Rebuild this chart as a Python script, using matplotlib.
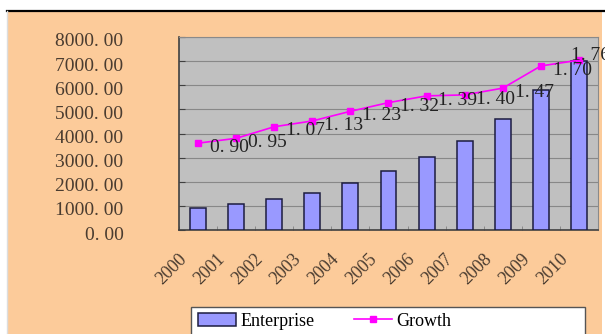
import numpy as np
import matplotlib
matplotlib.use("Agg")
import matplotlib.pyplot as plt
from matplotlib.patches import Rectangle
from matplotlib.lines import Line2D
from matplotlib.transforms import ScaledTranslation

# ---- data ----
years = ["2000", "2001", "2002", "2003", "2004", "2005",
         "2006", "2007", "2008", "2009", "2010"]
enterprise = [900, 1070, 1270, 1550, 1960, 2430, 3010, 3700, 4590, 5810, 7020]
growth = [0.90, 0.95, 1.07, 1.13, 1.23, 1.32, 1.39, 1.40, 1.47, 1.70, 1.76]
y_ticks = [0, 1000, 2000, 3000, 4000, 5000, 6000, 7000, 8000]

PEACH = "#fccb9a"
PLOT_BG = "#c0c0c0"
BAR = "#9999ff"
MAGENTA = "#ff00ff"
TXT = "#4a3c30"

plt.rcParams["font.family"] = ["Liberation Serif", "DejaVu Serif"]

fig = plt.figure(figsize=(6.05, 3.34), dpi=100, facecolor="white")
W, H = 605.0, 334.0

# peach chart area + black top rule
fig.patches.append(Rectangle((7 / W, 0), 595 / W, (H - 10) / H, transform=fig.transFigure,
                             facecolor=PEACH, edgecolor="none", zorder=-10))
fig.lines.append(Line2D([7 / W, 1], [(H - 10.5) / H] * 2, transform=fig.transFigure,
                        color="black", lw=1.6, zorder=-9))
fig.lines.append(Line2D([6.5 / W] * 2, [0, (H - 10.5) / H], transform=fig.transFigure,
                        color="#dddddd", lw=1, zorder=-9))

ax = fig.add_axes([179 / W, (H - 230) / H, 419 / W, 193 / H])
ax.set_facecolor(PLOT_BG)
x = np.arange(len(years))

bars = ax.bar(x, enterprise, width=0.42, color=BAR, edgecolor="#1c1c40",
              linewidth=1.1, zorder=3, label="Enterprise")
ax.set_xlim(-0.5, len(years) - 0.5)
ax.set_ylim(0, 8000)
ax.set_yticks(y_ticks)
ax.set_yticklabels([f"{v:.2f}".replace(".", ". ") for v in y_ticks])
ax.yaxis.grid(True, color="#888888", lw=0.8, zorder=1)
ax.set_axisbelow(True)
ax.tick_params(axis="y", direction="in", length=4, pad=40, labelsize=14,
               labelcolor=TXT, color="#404040")
down = ScaledTranslation(0, -3 / 100, fig.dpi_scale_trans)
for lab in ax.get_yticklabels():
    lab.set_transform(lab.get_transform() + down)

ax.set_xticks(x)
ax.set_xticklabels(years, rotation=45, ha="right", va="top")
ax.set_xticks(np.arange(-0.5, len(years)), minor=True)
ax.tick_params(axis="x", which="major", length=0, pad=15, labelsize=13, labelcolor=TXT)
ax.tick_params(axis="x", which="minor", direction="in", length=3, color="#808080")
shift = ScaledTranslation(-8 / 100, 0, fig.dpi_scale_trans)
for lab in ax.get_xticklabels():
    lab.set_transform(lab.get_transform() + shift)

for side in ["left", "bottom"]:
    ax.spines[side].set_color("#404040")
    ax.spines[side].set_linewidth(1.2)
for side in ["top", "right"]:
    ax.spines[side].set_color("#8a8a8a")

# growth on a hidden secondary scale
ax2 = ax.twinx()
ax2.set_ylim(0, 2)
ax2.set_yticks([])
for s in ax2.spines.values():
    s.set_visible(False)
line, = ax2.plot(x, growth, color=MAGENTA, lw=1.2, marker="s", markersize=5,
                 zorder=4, label="Growth")
for i, (xi, g) in enumerate(zip(x, growth)):
    # last label gets pushed back onto its marker, as in the original
    off = (-5.5, 3.5) if i == len(growth) - 1 else (8.5, -3)
    ax2.annotate(f"{g:.2f}".replace(".", ". "), (xi, g), xytext=off,
                 textcoords="offset points", ha="left", va="center",
                 fontsize=14, color="#222222", annotation_clip=False, zorder=5)

# legend box (runs off the bottom edge)
fig.patches.append(Rectangle((191 / W, -0.05), 394 / W, (H - 307) / H + 0.05,
                             transform=fig.transFigure, facecolor="white",
                             edgecolor="#555555", lw=1.0, zorder=2))
fig.legend([bars, line], ["Enterprise", "Growth"], ncol=2, frameon=False,
           loc="center left", bbox_to_anchor=(198 / W, 1 - 321 / H),
           borderpad=0, borderaxespad=0, handlelength=2.1, handletextpad=0.25,
           columnspacing=2.2, fontsize=13)

fig.savefig("out.png", dpi=100, facecolor=fig.get_facecolor())
